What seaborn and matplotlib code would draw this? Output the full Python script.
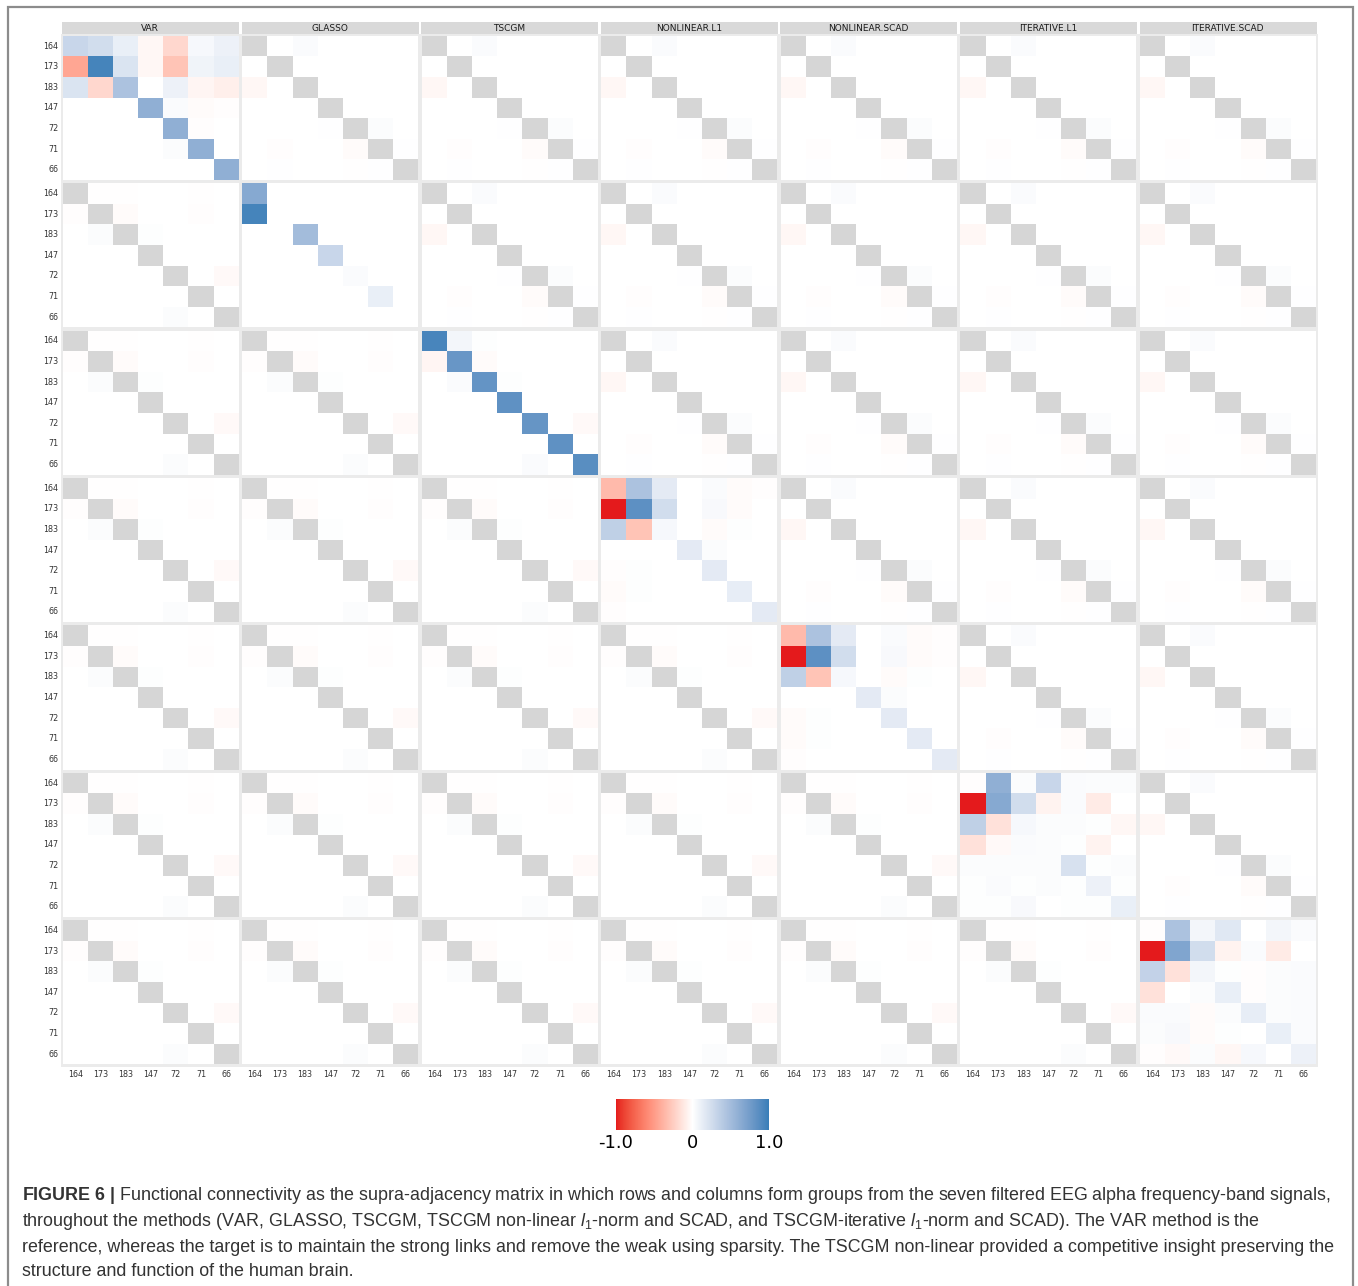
import numpy as np
import pandas as pd
import matplotlib
matplotlib.use("Agg")
import matplotlib.pyplot as plt
import seaborn as sns
from matplotlib.colors import LinearSegmentedColormap, to_rgb
from matplotlib.patches import Rectangle

# ---------------- data ----------------
METHODS = ["VAR", "GLASSO", "TSCGM", "NONLINEAR.L1", "NONLINEAR.SCAD",
           "ITERATIVE.L1", "ITERATIVE.SCAD"]
NODES = ["164", "173", "183", "147", "72", "71", "66"]

VAR = [
    [0.30, 0.25, 0.12, -0.04, -0.20, 0.05, 0.10],
    [-0.45, 0.95, 0.20, -0.04, -0.30, 0.08, 0.12],
    [0.20, -0.20, 0.45, 0.00, 0.10, -0.05, -0.08],
    [0.00, 0.00, 0.00, 0.60, 0.03, -0.02, -0.01],
    [0.00, 0.00, 0.00, 0.00, 0.60, -0.01, 0.00],
    [0.00, 0.00, 0.00, 0.00, 0.02, 0.60, 0.00],
    [0.00, 0.00, 0.00, 0.00, 0.00, 0.00, 0.60],
]
GLASSO = [
    [0.65, 0.00, 0.00, 0.00, 0.00, 0.00, 0.00],
    [0.95, 0.00, 0.00, 0.00, 0.00, 0.00, 0.00],
    [0.00, 0.00, 0.50, 0.00, 0.00, 0.00, 0.00],
    [0.00, 0.00, 0.00, 0.30, 0.00, 0.00, 0.00],
    [0.00, 0.00, 0.00, 0.00, 0.03, 0.00, 0.00],
    [0.00, 0.00, 0.00, 0.00, 0.00, 0.12, 0.00],
    [0.00, 0.00, 0.00, 0.00, 0.00, 0.00, 0.00],
]
TSCGM = [
    [0.94, 0.07, 0.01, 0.00, 0.00, 0.00, 0.00],
    [-0.05, 0.80, -0.02, 0.00, 0.00, 0.00, 0.00],
    [0.00, 0.03, 0.82, 0.01, 0.00, 0.00, 0.00],
    [0.00, 0.00, 0.00, 0.84, 0.00, 0.00, 0.00],
    [0.00, 0.00, 0.00, 0.00, 0.81, 0.00, -0.03],
    [0.00, 0.00, 0.00, 0.00, 0.00, 0.84, 0.00],
    [0.00, 0.00, 0.00, 0.00, 0.03, 0.00, 0.87],
]
NONLINEAR_L1 = [
    [-0.35, 0.45, 0.15, 0.00, 0.03, -0.02, -0.01],
    [-1.00, 0.85, 0.25, 0.00, 0.04, -0.02, 0.00],
    [0.35, -0.30, 0.05, 0.00, -0.02, 0.01, 0.00],
    [0.00, 0.00, 0.00, 0.15, 0.02, 0.00, 0.00],
    [-0.01, 0.01, 0.00, 0.00, 0.15, 0.00, 0.00],
    [-0.02, 0.01, 0.00, 0.00, 0.00, 0.13, 0.00],
    [-0.01, 0.00, 0.00, 0.00, 0.00, 0.00, 0.15],
]
NONLINEAR_SCAD = [
    [-0.35, 0.45, 0.15, 0.00, 0.03, -0.02, -0.01],
    [-1.00, 0.85, 0.25, 0.00, 0.04, -0.02, -0.01],
    [0.35, -0.30, 0.05, 0.00, -0.02, 0.01, 0.00],
    [0.00, 0.00, 0.00, 0.15, 0.02, 0.00, 0.00],
    [-0.02, 0.01, 0.00, 0.00, 0.15, 0.00, 0.00],
    [-0.02, 0.01, 0.00, 0.00, 0.00, 0.15, 0.00],
    [-0.01, 0.00, 0.00, 0.00, 0.00, 0.00, 0.15],
]
ITERATIVE_L1 = [
    [-0.01, 0.60, 0.02, 0.30, 0.03, 0.02, 0.02],
    [-1.00, 0.65, 0.25, -0.06, 0.03, -0.10, 0.00],
    [0.35, -0.15, 0.05, 0.02, 0.02, 0.01, -0.04],
    [-0.15, -0.03, 0.03, 0.02, 0.01, -0.06, 0.00],
    [0.02, 0.02, 0.02, 0.02, 0.22, 0.01, 0.02],
    [0.01, 0.03, 0.01, 0.02, 0.01, 0.10, 0.01],
    [0.01, 0.01, 0.04, 0.00, 0.01, 0.01, 0.12],
]
ITERATIVE_SCAD = [
    [-0.01, 0.45, 0.07, 0.17, 0.00, 0.07, 0.03],
    [-1.00, 0.68, 0.25, -0.06, 0.03, -0.10, 0.00],
    [0.33, -0.15, 0.07, 0.01, -0.01, 0.02, 0.03],
    [-0.15, 0.00, 0.02, 0.12, -0.01, 0.02, 0.03],
    [0.03, 0.03, -0.02, 0.02, 0.13, 0.02, 0.03],
    [0.02, 0.04, -0.02, 0.01, 0.00, 0.12, 0.03],
    [-0.01, -0.03, 0.02, -0.04, 0.05, 0.00, 0.10],
]
# cross-method blocks (their diagonal is shown as grey)
UPPER_OFF = [
    [0.00, 0.00, 0.03, 0.00, 0.00, 0.00, 0.00],
    [0.00, 0.00, 0.00, 0.00, 0.00, 0.00, 0.00],
    [-0.04, 0.00, 0.00, 0.00, 0.00, 0.00, 0.00],
    [0.00, 0.00, 0.00, 0.00, 0.00, 0.00, 0.00],
    [0.00, 0.00, 0.00, 0.005, 0.00, 0.02, 0.00],
    [0.00, -0.01, 0.00, 0.00, -0.02, 0.00, 0.005],
    [0.00, 0.005, 0.00, 0.00, -0.005, 0.005, 0.00],
]
LOWER_OFF = [
    [0.00, -0.005, -0.005, 0.00, 0.00, -0.005, 0.00],
    [-0.01, 0.00, -0.02, 0.00, 0.00, -0.01, 0.00],
    [0.00, 0.02, 0.00, 0.01, 0.00, 0.00, 0.00],
    [0.00, 0.00, 0.00, 0.00, 0.00, 0.00, 0.00],
    [0.00, 0.00, 0.00, 0.00, 0.00, 0.00, -0.03],
    [0.00, 0.00, 0.00, 0.00, 0.00, 0.00, 0.00],
    [0.00, 0.00, 0.00, 0.00, 0.02, 0.00, 0.00],
]
METHOD_BLOCKS = [VAR, GLASSO, TSCGM, NONLINEAR_L1, NONLINEAR_SCAD,
                 ITERATIVE_L1, ITERATIVE_SCAD]

CAPTION = [
    r"$\mathbf{FIGURE\ 6\ |}$ Functional connectivity as the supra-adjacency matrix in which rows and columns form groups from the seven filtered EEG alpha frequency-band signals,",
    r"throughout the methods (VAR, GLASSO, TSCGM, TSCGM non-linear $l_1$-norm and SCAD, and TSCGM-iterative $l_1$-norm and SCAD). The VAR method is the",
    r"reference, whereas the target is to maintain the strong links and remove the weak using sparsity. The TSCGM non-linear provided a competitive insight preserving the",
    r"structure and function of the human brain.",
]

# ---------------- build supra-adjacency table ----------------
n = len(NODES)
m = len(METHODS)
labels = [f"{mt}|{nd}" for mt in METHODS for nd in NODES]
supra = np.zeros((m * n, m * n))
for i in range(m):
    for j in range(m):
        if i == j:
            blk = METHOD_BLOCKS[i]
        elif i < j:
            blk = UPPER_OFF
        else:
            blk = LOWER_OFF
        supra[i * n:(i + 1) * n, j * n:(j + 1) * n] = np.array(blk)
supra_df = pd.DataFrame(supra, index=labels, columns=labels)


# ---------------- diverging palette interpolated in CIELAB ----------------
def _srgb_to_lab(rgb):
    c = np.asarray(rgb, dtype=float)
    c = np.where(c <= 0.04045, c / 12.92, ((c + 0.055) / 1.055) ** 2.4)
    M = np.array([[0.4124, 0.3576, 0.1805],
                  [0.2126, 0.7152, 0.0722],
                  [0.0193, 0.1192, 0.9505]])
    xyz = M @ c / np.array([0.95047, 1.0, 1.08883])
    f = np.where(xyz > 0.008856, np.cbrt(xyz), 7.787 * xyz + 16 / 116)
    return np.array([116 * f[1] - 16, 500 * (f[0] - f[1]), 200 * (f[1] - f[2])])


def _lab_to_srgb(lab):
    L, a, b = lab
    fy_ = (L + 16) / 116
    fx_ = fy_ + a / 500
    fz_ = fy_ - b / 200
    f = np.array([fx_, fy_, fz_])
    xyz = np.where(f ** 3 > 0.008856, f ** 3, (f - 16 / 116) / 7.787)
    xyz = xyz * np.array([0.95047, 1.0, 1.08883])
    Minv = np.array([[3.2406, -1.5372, -0.4986],
                     [-0.9689, 1.8758, 0.0415],
                     [0.0557, -0.2040, 1.0570]])
    c = Minv @ xyz
    c = np.where(c <= 0.0031308, 12.92 * c, 1.055 * np.clip(c, 0, None) ** (1 / 2.4) - 0.055)
    return np.clip(c, 0, 1)


def lab_diverging(low, mid, high, steps=64):
    lo, mi, hi = (_srgb_to_lab(to_rgb(c)) for c in (low, mid, high))
    cols = []
    for t in np.linspace(0, 1, steps):
        cols.append(_lab_to_srgb(lo + (mi - lo) * t))
    for t in np.linspace(0, 1, steps)[1:]:
        cols.append(_lab_to_srgb(mi + (hi - mi) * t))
    return LinearSegmentedColormap.from_list("rwb_lab", cols, N=512)


# ---------------- style ----------------
sns.set_theme(style="white")
plt.rcParams["font.family"] = ["DejaVu Sans"]
plt.rcParams["mathtext.fontset"] = "custom"
plt.rcParams["mathtext.rm"] = "Liberation Sans"
plt.rcParams["mathtext.it"] = "Liberation Sans:italic"
plt.rcParams["mathtext.bf"] = "Liberation Sans:bold"

cmap = lab_diverging("#E41A1C", "#FFFFFF", "#377EB8")
GREY = "#D6D6D6"

W, H = 1358, 1286
fig = plt.figure(figsize=(W / 100, H / 100), dpi=100)
fig.patch.set_facecolor("white")


def fx(x):
    return x / W


def fy(y):
    return 1 - y / H


# outer frame
fig.add_artist(Rectangle((fx(8), fy(1300)), fx(1353) - fx(8), fy(7) - fy(1300),
                         transform=fig.transFigure, fill=False,
                         edgecolor="#8C8C8C", linewidth=1.6, zorder=-2))
# facet background
fig.add_artist(Rectangle((fx(60.5), fy(1066.5)), fx(1318) - fx(60.5), fy(34) - fy(1066.5),
                         transform=fig.transFigure, facecolor="#EBEBEB",
                         edgecolor="none", zorder=-1))

left0, pitch_x, pw = 62.7, 179.55, 176.0
top0, pitch_y, ph = 35.7, 147.4, 144.3

mappable = None
for i in range(m):
    for j in range(m):
        x0 = left0 + j * pitch_x
        y0 = top0 + i * pitch_y
        ax = fig.add_axes([fx(x0), fy(y0 + ph), pw / W, ph / H])
        sub = supra_df.iloc[i * n:(i + 1) * n, j * n:(j + 1) * n].copy()
        sub.index = NODES
        sub.columns = NODES
        mask = np.eye(n, dtype=bool) if i != j else np.zeros((n, n), dtype=bool)
        ax.set_facecolor(GREY)
        sns.heatmap(sub, ax=ax, cmap=cmap, vmin=-1, vmax=1, mask=mask,
                    cbar=False, linewidths=0,
                    xticklabels=NODES if i == m - 1 else False,
                    yticklabels=NODES if j == 0 else False)
        if mappable is None:
            mappable = ax.collections[0]
        ax.set_xlabel("")
        ax.set_ylabel("")
        ax.tick_params(axis="both", length=2, width=0.6, color="#333333",
                       labelsize=5.8, labelcolor="#333333", pad=1)
        if j == 0:
            for t in ax.get_yticklabels():
                t.set_rotation(0)
        if i == m - 1:
            for t in ax.get_xticklabels():
                t.set_rotation(0)
            ax.tick_params(axis="x", pad=2)
        for s in ax.spines.values():
            s.set_visible(False)

# strips
for j, name in enumerate(METHODS):
    x0 = left0 + j * pitch_x - 0.5
    fig.add_artist(Rectangle((fx(x0), fy(33.8)), (pw + 1) / W, (33.8 - 22.3) / H,
                             transform=fig.transFigure, facecolor="#D9D9D9",
                             edgecolor="none", zorder=1))
    fig.text(fx(x0 + pw / 2), fy(28.2), name, ha="center", va="center",
             fontsize=6.5, color="#1A1A1A", zorder=2)

# colorbar
cax = fig.add_axes([fx(616), fy(1130), (769 - 616) / W, (1130 - 1099) / H])
cb = fig.colorbar(mappable, cax=cax, orientation="horizontal", ticks=[-1, 0, 1])
cb.outline.set_visible(False)
cb.ax.set_xticklabels(["-1.0", "0", "1.0"])
cb.ax.tick_params(length=0, labelsize=13, pad=3, labelcolor="black")

# caption
cap_y = [1196, 1221, 1247, 1272]
for line, yy in zip(CAPTION, cap_y):
    fig.text(fx(22), fy(yy), line, ha="left", va="center", fontsize=12.9,
             family="Liberation Sans", color="#333333")

fig.savefig("out.png", dpi=100, facecolor="white")
